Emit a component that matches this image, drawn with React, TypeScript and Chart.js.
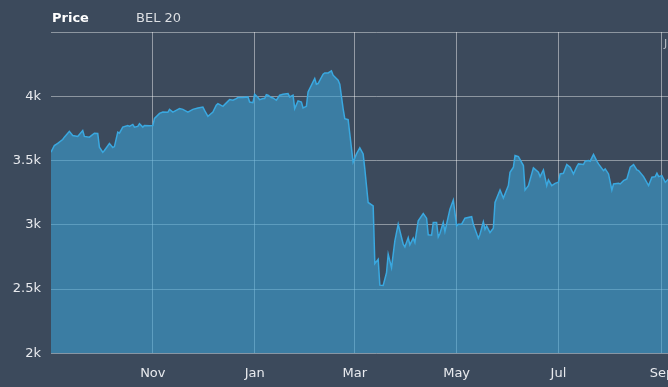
import React, { useEffect, useRef } from "react";
import { Chart, registerables } from "chart.js";

Chart.register(...registerables);

// Day offsets from 1 Sep 2019
const days = [
  0, 2, 4, 7, 8, 11, 13, 16, 19, 20, 23, 26, 28, 29, 31, 32, 35, 37, 38, 40,
  41, 43, 46, 47, 49, 50, 52, 53, 55, 56, 59, 61, 62, 65, 67, 70, 71, 73, 75, 77,
  79, 82, 85, 88, 91, 92, 94, 97, 99, 100, 103, 104, 107, 109, 111, 112, 115, 118, 119, 121,
  122, 124, 125, 127, 128, 129, 130, 132, 133, 135, 137, 139, 142, 143, 145, 146, 148, 150, 151, 153,
  154, 157, 158, 159, 160, 163, 164, 166, 168, 169, 172, 173, 175, 176, 178, 181, 183, 185, 187, 188,
  190, 193, 194, 196, 197, 199, 201, 202, 204, 206, 208, 211, 212, 214, 215, 217, 218, 220, 223, 225,
  226, 228, 229, 231, 232, 233, 235, 236, 239, 241, 243, 244, 246, 248, 252, 253, 256, 257, 259, 260,
  261, 263, 265, 266, 269, 271, 274, 275, 277, 278, 280, 283, 284, 286, 289, 292, 293, 295, 297, 298,
  300, 302, 304, 305, 307, 309, 311, 313, 315, 316, 319, 320, 322, 323, 325, 327, 328, 331, 332, 334,
  336, 337, 340, 341, 343, 345, 347, 349, 351, 352, 355, 358, 360, 362, 363, 364, 366, 368, 370, 373,
];

const prices = [
  3565, 3617, 3633, 3664, 3682, 3727, 3695, 3688, 3734, 3688, 3682, 3713, 3711, 3604, 3565, 3578, 3633, 3602, 3609, 3721,
  3713, 3760, 3773, 3766, 3781, 3760, 3766, 3787, 3760, 3773, 3771, 3773, 3828, 3867, 3877, 3875, 3898, 3877, 3891, 3904,
  3898, 3877, 3898, 3909, 3916, 3891, 3844, 3877, 3930, 3943, 3922, 3935, 3974, 3969, 3982, 3990, 3990, 3995, 3955, 3950,
  4016, 3990, 3974, 3982, 3982, 4013, 4008, 3990, 3987, 3969, 4008, 4016, 4021, 3995, 4008, 3904, 3964, 3955, 3909, 3922,
  4034, 4112, 4138, 4094, 4099, 4172, 4182, 4182, 4198, 4164, 4125, 4094, 3904, 3826, 3818, 3487, 3552, 3599, 3552, 3435,
  3174, 3148, 2698, 2732, 2531, 2529, 2627, 2771, 2667, 2875, 3005, 2849, 2828, 2901, 2844, 2896, 2862, 3031, 3088, 3052,
  2922, 2919, 3018, 3018, 2906, 2932, 3018, 2948, 3122, 3193, 2992, 3005, 3005, 3052, 3063, 3005, 2896, 2927, 3023, 2966,
  2992, 2940, 2974, 3174, 3271, 3208, 3305, 3409, 3448, 3539, 3531, 3461, 3271, 3305, 3443, 3409, 3375, 3427, 3305, 3349,
  3305, 3323, 3331, 3396, 3401, 3469, 3448, 3396, 3453, 3474, 3469, 3495, 3500, 3495, 3547, 3495, 3474, 3422, 3435, 3396,
  3271, 3318, 3323, 3318, 3344, 3357, 3448, 3469, 3427, 3422, 3375, 3305, 3370, 3375, 3401, 3375, 3383, 3331, 3357, 3360,
];

const monthTickDays = [61, 122, 182, 243, 304, 366];
const monthTickLabels = ["Nov", "Jan", "Mar", "May", "Jul", "Sep"];

const yTicks = [2000, 2500, 3000, 3500, 4000, 4500];

const FONT = "'DejaVu Sans', Verdana, sans-serif";

export default function App() {
  const ref = useRef<HTMLCanvasElement | null>(null);

  useEffect(() => {
    if (!ref.current) return;
    const data = days.map((d, i) => ({ x: d, y: prices[i] }));
    const chart = new Chart(ref.current, {
      type: "line",
      data: {
        datasets: [
          {
            data,
            borderColor: "#3aa8e0",
            borderWidth: 1.5,
            backgroundColor: "rgba(58,160,210,0.6)",
            fill: "start",
            pointRadius: 0,
            tension: 0,
          },
        ],
      },
      options: {
        animation: false,
        responsive: false,
        maintainAspectRatio: false,
        layout: { padding: { top: 32, left: 0, right: 0, bottom: 0 } },
        plugins: {
          legend: { display: false },
          tooltip: { enabled: false },
          title: { display: false },
        },
        scales: {
          x: {
            type: "linear",
            min: 0,
            max: 390,
            afterBuildTicks: (scale: any) => {
              scale.ticks = monthTickDays.map((v) => ({ value: v }));
            },
            ticks: {
              autoSkip: false,
              maxRotation: 0,
              padding: 12,
              color: "#e8eaee",
              font: { family: FONT, size: 13 },
              callback: (v: any) => {
                const i = monthTickDays.indexOf(Number(v));
                return i >= 0 ? monthTickLabels[i] : "";
              },
            },
            grid: {
              color: "rgba(255,255,255,0.45)",
              lineWidth: 1,
              drawTicks: false,
            },
            border: { display: false },
          },
          y: {
            type: "linear",
            min: 2000,
            max: 4500,
            afterBuildTicks: (scale: any) => {
              scale.ticks = yTicks.map((v) => ({ value: v }));
            },
            afterFit: (scale: any) => {
              scale.width = 51;
            },
            ticks: {
              padding: 10,
              color: "#e8eaee",
              font: { family: FONT, size: 13 },
              callback: (v: any) => (Number(v) === 4500 ? "" : Number(v) / 1000 + "k"),
            },
            grid: {
              color: "rgba(255,255,255,0.42)",
              lineWidth: 1,
              drawTicks: false,
            },
            border: { display: false },
          },
        },
      },
    });
    return () => chart.destroy();
  }, []);

  return (
    <div
      style={{
        position: "fixed",
        left: 0,
        top: 0,
        width: 668,
        height: 387,
        overflow: "hidden",
        background: "#3c4a5c",
      }}
    >
      <canvas ref={ref} width={702} height={393} style={{ position: "absolute", left: 0, top: 0, width: 702, height: 393 }} />
      <span
        style={{
          position: "absolute",
          left: 52,
          top: 10,
          fontFamily: FONT,
          fontWeight: "bold",
          fontSize: 13,
          color: "#ffffff",
          lineHeight: "16px",
        }}
      >
        Price
      </span>
      <span
        style={{
          position: "absolute",
          left: 136,
          top: 10,
          fontFamily: FONT,
          fontSize: 13,
          color: "#dcdfe3",
          lineHeight: "16px",
        }}
      >
        BEL 20
      </span>
      <span
        style={{
          position: "absolute",
          left: 664,
          top: 37,
          fontFamily: FONT,
          fontSize: 11,
          color: "#b8bec6",
          lineHeight: "14px",
        }}
      >
        J
      </span>
    </div>
  );
}
